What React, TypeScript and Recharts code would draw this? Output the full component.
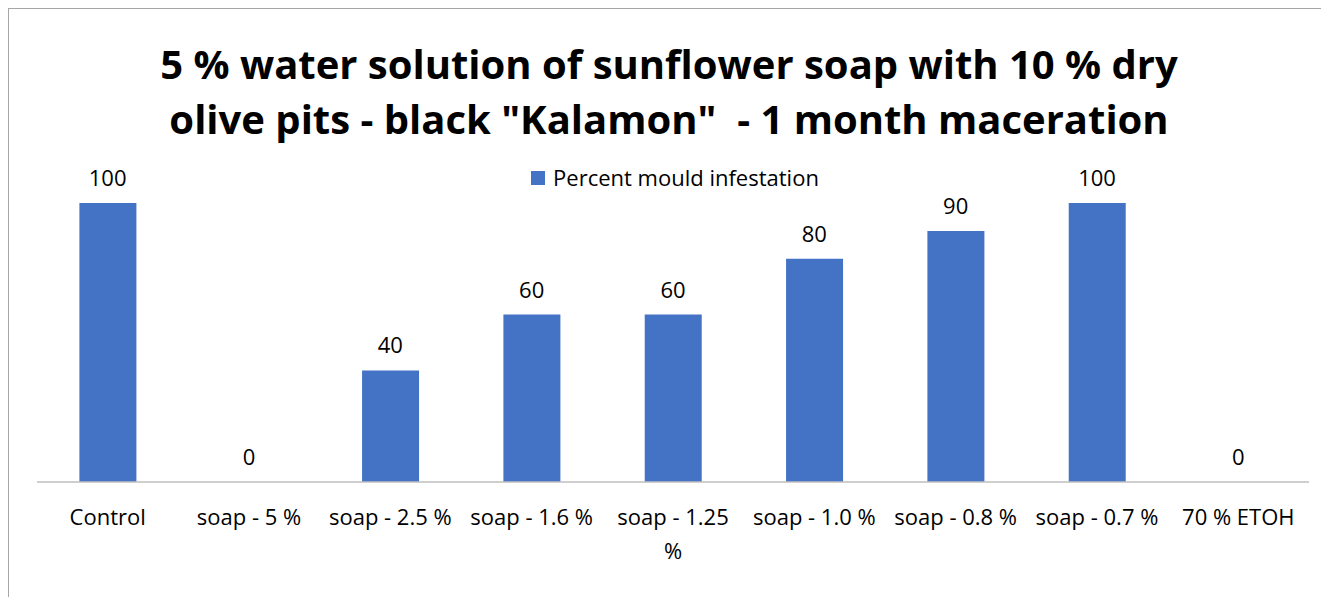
import React from 'react';
import { ComposedChart, Bar, Line, XAxis, YAxis, LabelList, Legend } from 'recharts';

const categories = [
  'Control',
  'soap - 5 %',
  'soap - 2.5 %',
  'soap - 1.6 %',
  'soap - 1.25 %',
  'soap - 1.0 %',
  'soap - 0.8 %',
  'soap - 0.7 %',
  '70 % ETOH',
];
const mouldPercent = [100, 0, 40, 60, 60, 80, 90, 100, 0];
const seriesName = 'Percent mould infestation';
const titleLines = [
  '5 % water solution of sunflower soap with 10 % dry',
  'olive pits - black "Kalamon"  - 1 month maceration',
];

const data = categories.map((name, i) => ({ name, value: mouldPercent[i] }));

const FONT = '"Open Sans", sans-serif';

// labels longer than the slot wrap their last word, like the spreadsheet did
const splitLabel = (s: string) => {
  if (s.length <= 12) return [s];
  const cut = s.lastIndexOf(' ');
  return [s.slice(0, cut), s.slice(cut + 1)];
};

const CategoryTick = (props: any) => {
  const { x, y, payload } = props;
  const lines = splitLabel(String(payload.value));
  return (
    <text x={x} y={y + 35} textAnchor="middle" fontSize={22} fontFamily={FONT} fill="#000">
      {lines.map((l, i) => (
        <tspan key={i} x={x} dy={i === 0 ? 0 : 34}>
          {l}
        </tspan>
      ))}
    </text>
  );
};

const ValueLabel = (props: any) => {
  const { x, y, value } = props;
  return (
    <text x={Number(x)} y={Number(y) - 17} textAnchor="middle" fontSize={22} fontFamily={FONT} fill="#000">
      {String(value)}
    </text>
  );
};

const LegendContent = () => (
  <div
    style={{
      display: 'flex',
      alignItems: 'center',
      justifyContent: 'center',
      fontFamily: FONT,
      fontSize: 22,
      lineHeight: '27px',
      color: '#000',
    }}
  >
    <span
      style={{ width: 14, height: 14, background: '#4472C4', marginRight: 8, display: 'inline-block' }}
    />
    <span>{seriesName}</span>
  </div>
);

export default function App() {
  return (
    <div
      style={{
        position: 'relative',
        width: 1321,
        height: 589,
        borderTop: '1px solid #a6a6a6',
        borderLeft: '1px solid #a6a6a6',
        background: '#fff',
      }}
    >
      <div
        style={{
          position: 'absolute',
          top: 27,
          left: 0,
          width: 1320,
          textAlign: 'center',
          fontFamily: FONT,
          fontWeight: 700,
          fontSize: 40,
          lineHeight: '55px',
          color: '#000',
        }}
      >
        {titleLines.map((l) => (
          <div key={l} style={{ whiteSpace: 'pre' }}>
            {l}
          </div>
        ))}
      </div>
      <ComposedChart
        width={1320}
        height={588}
        data={data}
        margin={{ top: 167, right: 20, bottom: 85, left: 28 }}
        barCategoryGap="30%"
      >
        <XAxis
          dataKey="name"
          height={30}
          axisLine={{ stroke: '#bfbfbf', strokeWidth: 1.5 }}
          tickLine={false}
          interval={0}
          tick={<CategoryTick />}
        />
        <YAxis hide domain={[0, 100]} />
        <Legend
          verticalAlign="top"
          height={27}
          content={<LegendContent />}
          wrapperStyle={{ top: 155, left: 6, width: 1320 }}
        />
        <Bar dataKey="value" name={seriesName} fill="#4472C4" isAnimationActive={false} />
        {/* invisible line only carries the value labels, zeros included */}
        <Line
          dataKey="value"
          stroke="none"
          dot={false}
          activeDot={false}
          legendType="none"
          isAnimationActive={false}
        >
          <LabelList dataKey="value" content={<ValueLabel />} />
        </Line>
      </ComposedChart>
    </div>
  );
}
